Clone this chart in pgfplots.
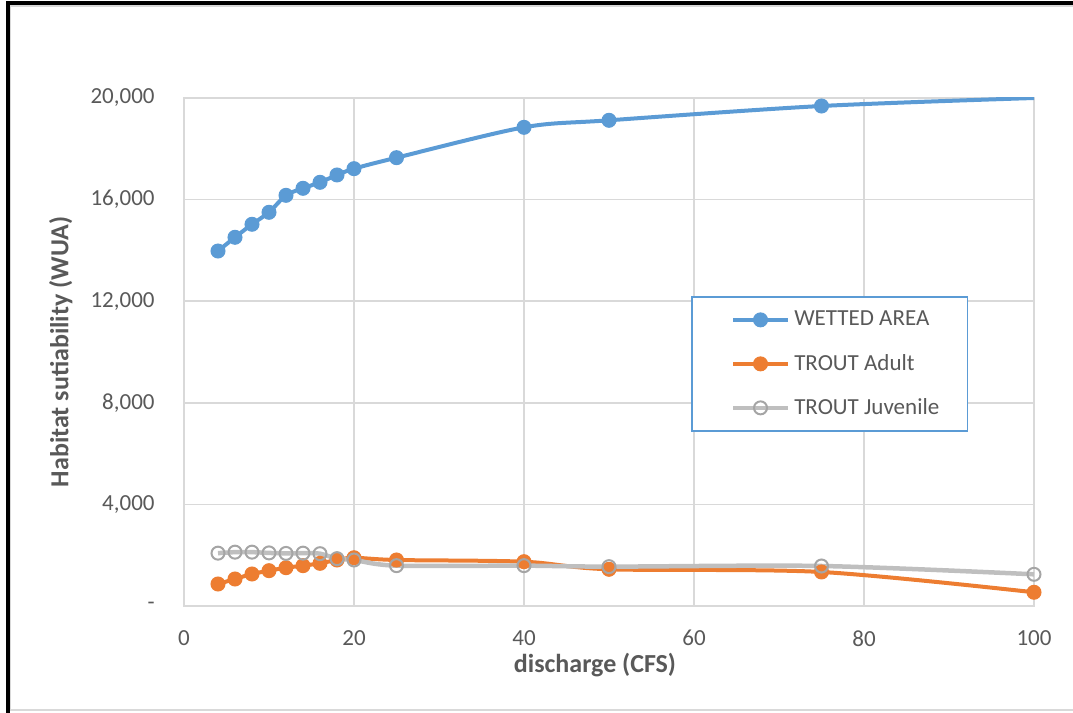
\documentclass[border=0pt]{standalone}
\usepackage{fontspec}
\setmainfont{Carlito}
\usepackage{pgfplots}
\pgfplotsset{compat=1.18}
\definecolor{cblue}{HTML}{5B9BD5}
\definecolor{corange}{HTML}{ED7D31}
\definecolor{cgray}{HTML}{A5A5A5}
\definecolor{cgrayl}{HTML}{BFBFBF}
\definecolor{cgrid}{HTML}{D9D9D9}
\definecolor{ctext}{HTML}{595959}
\begin{document}
\begin{tikzpicture}
\path[use as bounding box] (0,0) rectangle (536.5pt,356.5pt);
\draw[cgrid, line width=0.75pt] (5pt,1.5pt) -- (5pt,353.5pt) -- (536.5pt,353.5pt);
\draw[cgrid, line width=0.75pt] (5pt,1.5pt) -- (536.5pt,1.5pt);
\draw[black, line width=2pt] (3.75pt,0pt) -- (3.75pt,355pt) -- (536.5pt,355pt);
\begin{axis}[
  at={(92pt,53.5pt)}, anchor=south west,
  scale only axis, width=425pt, height=254pt,
  xmin=0, xmax=100, ymin=0, ymax=20000,
  scaled y ticks=false, scaled x ticks=false,
  xtick={0,20,40,60,80,100}, ytick={0,4000,8000,12000,16000,20000},
  yticklabels={-\hspace{5.5pt},{4,000},{8,000},{12,000},{16,000},{20,000}},
  grid=major, grid style={cgrid, line width=0.75pt},
  axis line style={cgrid, line width=0.75pt},
  major tick length=0pt,
  tick label style={font=\fontsize{11.5}{13}\selectfont, text=ctext},
  /pgf/number format/assume math mode=true,
  xticklabel style={anchor=north, inner sep=0pt, yshift=-12pt},
  yticklabel style={anchor=east, inner sep=0pt, xshift=-14.5pt},
  xlabel={discharge (CFS)},
  ylabel={Habitat sutiability (WUA)},
  label style={font=\bfseries\fontsize{13}{15}\selectfont, text=ctext},
  xlabel style={at={(axis description cs:0.4835,0)}, anchor=base, yshift=-33.5pt},
  ylabel style={at={(axis description cs:0,0.5)}, anchor=base, yshift=57.8pt},
  legend style={
    at={(axis description cs:0.5965,0.610)}, anchor=north west,
    draw=cblue, line width=0.75pt,
    inner xsep=10pt, inner ysep=0.5pt, row sep=0pt,
    font=\fontsize{11.5}{13}\selectfont, text=ctext,
    nodes={minimum height=22pt, inner sep=2pt},
  },
  legend cell align=left,
  legend image code/.code={
    \path (-9.5pt,0pt);
    \draw[mark indices={2}] plot coordinates {(0pt,0pt) (13.75pt,0pt) (27.5pt,0pt)};
  },
]
\addplot[cblue, line width=2pt, smooth, mark=*, mark size=3.5pt,
  mark options={fill=cblue, draw=cblue, line width=0.5pt},
  mark indices={1,2,3,4,5,6,7,8,9,10,11,12,13}] coordinates {
  (4,13976) (6,14516) (8,15028) (10,15500) (12,16169) (14,16445) (16,16681)
  (18,16969) (20,17217) (25,17650) (40,18846) (50,19122) (75,19685) (100,20000)
};
\addlegendentry{\makebox[74.5pt][l]{WETTED AREA}}
\addplot[corange, line width=2pt, smooth, mark=*, mark size=3.5pt,
  mark options={fill=corange, draw=corange, line width=0.5pt}] coordinates {
  (4,866) (6,1063) (8,1260) (10,1390) (12,1508) (14,1587) (16,1680)
  (18,1811) (20,1900) (25,1811) (40,1744) (50,1445) (75,1339) (100,540)
};
\addlegendentry{\makebox[74.5pt][l]{TROUT Adult}}
\addplot[cgrayl, line width=2.25pt, smooth, mark=o, mark size=3.25pt,
  mark options={draw=cgray, line width=1pt}] coordinates {
  (4,2080) (6,2120) (8,2120) (10,2090) (12,2070) (14,2080) (16,2060)
  (18,1864) (20,1811) (25,1588) (40,1588) (50,1550) (75,1575) (100,1247)
};
\addlegendentry{\makebox[74.5pt][l]{TROUT Juvenile}}
\end{axis}
\end{tikzpicture}
\end{document}
